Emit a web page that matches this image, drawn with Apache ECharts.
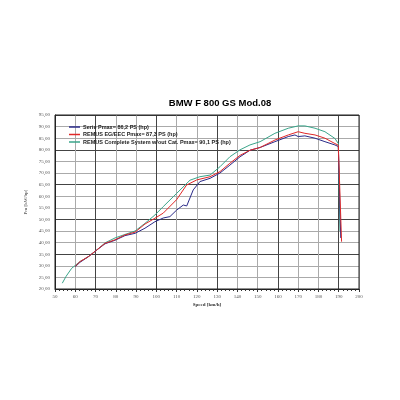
<!DOCTYPE html>
<html>
<head>
<meta charset="utf-8">
<script src="https://cdn.jsdelivr.net/npm/echarts@6/dist/echarts.min.js"></script>
<style>html,body{margin:0;padding:0;background:#fff}#c{width:400px;height:400px}</style>
</head>
<body>
<div id="c"></div>
<script>
var seriesNames = [
  "Serie Pmax= 86,2 PS (hp)",
  "REMUS EG/EEC Pmax= 87,3 PS (hp)",
  "REMUS Complete System w/out Cat. Pmax= 90,1 PS (hp)"
];
var serieSpeed = [60, 62.3, 66.4, 70.6, 74.7, 79.6, 84.5, 89.5, 94.4, 99.3, 103.4, 106.7, 110, 113.3, 115, 118.2, 121.5, 126.5, 131.4, 136.3, 141.3, 146.2, 151.2, 158.5, 165.1, 168.4, 170, 173.3, 178.3, 183.2, 188.1, 189.8, 191];
var serieValue = [29.6, 31.5, 33.9, 36.8, 39.5, 41, 43, 44, 46.2, 49, 50.6, 51.2, 54, 56.2, 55.8, 62.7, 66.3, 67.7, 70, 73.4, 77, 79.8, 81, 83.5, 85.7, 86.4, 85.7, 86, 85, 83.5, 82.1, 81.4, 42];
var egSpeed = [60, 62.3, 66.4, 70.6, 74.7, 79.6, 84.5, 89.5, 94.4, 99.3, 103.4, 110, 114.9, 119.9, 126.5, 131.4, 136.3, 141.3, 146.2, 151.2, 158.5, 165.1, 170, 173.3, 178.3, 183.2, 188.1, 189.8, 191.4];
var egValue = [29.8, 31.8, 33.9, 36.8, 39.7, 41.2, 43.3, 44.5, 48, 50.5, 52.7, 58.5, 64.8, 67, 68.4, 70.6, 74.2, 77.6, 79.8, 81, 84.2, 86.4, 87.8, 87.1, 86.4, 85, 82.7, 82, 40.4];
var csSpeed = [53.6, 55.5, 58.2, 62.3, 66.4, 70.6, 74.7, 79.6, 84.5, 89.5, 94.4, 99.3, 103.4, 110, 116.6, 121.5, 126.5, 131.4, 136.3, 141.3, 146.2, 151.2, 158.5, 165.1, 170, 173.3, 178.3, 183.2, 188.1, 189.8, 190.6];
var csValue = [22.5, 25.5, 28.9, 31.8, 33.9, 36.8, 39.9, 42, 43.5, 45, 48.3, 51.9, 55.5, 61.2, 66.9, 68.4, 69.1, 72.7, 77, 80, 82.1, 83.5, 87.1, 89.3, 90.3, 90.3, 89.3, 87.8, 84.9, 82.7, 45];

function pairs(xs, ys) { return xs.map(function (x, i) { return [x, ys[i]]; }); }

var xGridColors = [], yGridColors = [];
for (var i = 0; i < 16; i++) {
  xGridColors.push(i % 3 === 2 ? '#444' : '#aaa');
  yGridColors.push(i % 3 === 0 && i > 0 ? '#444' : '#aaa');
}

var chart = echarts.init(document.getElementById('c'));
chart.setOption({
  backgroundColor: '#fff',
  animation: false,
  title: {
    text: 'BMW F 800 GS Mod.08',
    left: 215, top: 93, textAlign: 'center',
    textStyle: { fontSize: 9.5, fontWeight: 'bold', color: '#000', fontFamily: 'Liberation Sans' }
  },
  legend: {
    orient: 'vertical', left: 64, top: 119,
    icon: 'rect', itemWidth: 11, itemHeight: 1.5, itemGap: 1.5,
    textStyle: { fontSize: 5.5, fontWeight: 'bold', color: '#222', fontFamily: 'Liberation Sans', padding: [0, 0, 0, -2] },
    data: seriesNames
  },
  grid: { left: 55, right: 41, top: 115, bottom: 111 },
  xAxis: {
    type: 'value', min: 50, max: 200, interval: 10,
    name: 'Speed [km/h]', nameLocation: 'middle', nameGap: 13,
    nameTextStyle: { fontSize: 5, fontWeight: 'bold', color: '#333', fontFamily: 'Liberation Serif' },
    axisLine: { lineStyle: { color: '#222', width: 1 } },
    axisTick: { show: true, length: 3, lineStyle: { color: '#333' } },
    minorTick: { show: true, splitNumber: 5, length: 2, lineStyle: { color: '#333' } },
    axisLabel: { fontSize: 5, color: '#555', margin: 5, fontFamily: 'Liberation Serif' },
    splitLine: { show: true, lineStyle: { color: xGridColors, width: 1 } }
  },
  yAxis: {
    type: 'value', min: 20, max: 95, interval: 5,
    name: 'Pm [kW/hp]', nameLocation: 'middle', nameGap: 21,
    nameTextStyle: { fontSize: 5, color: '#333', fontFamily: 'Liberation Serif' },
    axisLine: { show: true, lineStyle: { color: '#222', width: 1 } },
    axisTick: { show: false },
    axisLabel: { fontSize: 5, color: '#555', margin: 5, fontFamily: 'Liberation Serif',
      formatter: function (v) { return v.toFixed(2).replace('.', ','); } },
    splitLine: { show: true, lineStyle: { color: yGridColors, width: 1 } }
  },
  series: [
    { name: seriesNames[2], type: 'line', data: pairs(csSpeed, csValue), showSymbol: false, symbol: 'none',
      lineStyle: { color: '#3aa58a', width: 1 }, itemStyle: { color: '#3aa58a' } },
    { name: seriesNames[0], type: 'line', data: pairs(serieSpeed, serieValue), showSymbol: false, symbol: 'none',
      lineStyle: { color: '#2a2a88', width: 1 }, itemStyle: { color: '#2a2a88' } },
    { name: seriesNames[1], type: 'line', data: pairs(egSpeed, egValue), showSymbol: false, symbol: 'none',
      lineStyle: { color: '#e02828', width: 1 }, itemStyle: { color: '#e02828' } }
  ]
});
chart.setOption({
  graphic: [{
    type: 'rect', silent: true, z: 100,
    shape: { x: 55, y: 115, width: 304, height: 174 },
    style: { fill: null, stroke: '#222', lineWidth: 1 }
  }]
});
</script>
</body>
</html>
